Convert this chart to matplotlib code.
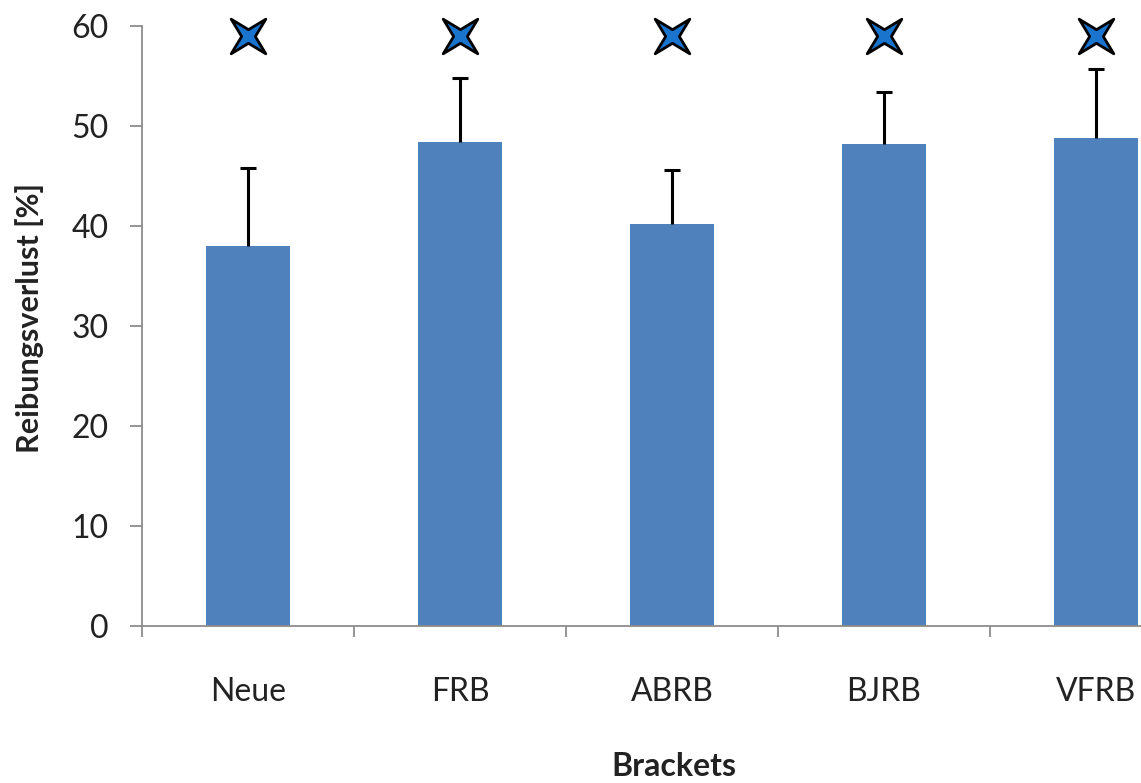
import matplotlib
matplotlib.use("Agg")
import matplotlib.pyplot as plt
import numpy as np
from matplotlib.path import Path

categories = ["Neue", "FRB", "ABRB", "BJRB", "VFRB"]
means = [38.0, 48.4, 40.2, 48.2, 48.8]
upper_err = [7.8, 6.4, 5.4, 5.2, 6.9]
star_level = [59.0, 59.0, 59.0, 59.0, 59.0]

plt.rcParams["font.family"] = ["Lato", "DejaVu Sans"]

fig = plt.figure(figsize=(11.41, 7.83), dpi=100)
ax = fig.add_axes([142 / 1141, 157 / 783, 1060 / 1141, 600 / 783])

x = np.arange(len(categories)) + 0.5
ax.bar(x, means, width=0.4, color="#4F81BD", zorder=2)
_, caps, _ = ax.errorbar(x, means, yerr=[np.zeros(len(means)), upper_err], fmt="none",
                         ecolor="black", elinewidth=2.2, capsize=6, capthick=2.2, zorder=3)
# one-sided error bars: hide the cap at the bar top
caps[0].set_visible(False)

# four-pointed star marker
angles = np.deg2rad(np.arange(0, 360, 45) + 45)
radii = np.array([1.0, 0.28] * 4)
verts = np.column_stack([radii * np.cos(angles), radii * np.sin(angles)])
verts = np.vstack([verts, verts[:1]])
codes = [Path.MOVETO] + [Path.LINETO] * 7 + [Path.CLOSEPOLY]
star = Path(verts, codes)
ax.scatter(x, star_level, marker=star, s=620, facecolor="#1874CD",
           edgecolor="black", linewidth=2, zorder=4, clip_on=False)

ax.set_xlim(0, 5)
ax.set_ylim(0, 60)
ax.set_yticks(range(0, 61, 10))
ax.set_xticks(range(0, 6))
ax.set_xticklabels([])
ax.set_xticks(x, minor=True)
ax.set_xticklabels(categories, minor=True)
ax.tick_params(axis="x", which="minor", length=0, pad=37, labelsize=23, colors="#222222")
ax.tick_params(axis="x", which="major", length=8, width=1.3, color="#8c8c8c")
ax.tick_params(axis="y", length=9, width=1.3, color="#8c8c8c", pad=15,
               labelsize=23, labelcolor="#222222")

for side in ["top", "right"]:
    ax.spines[side].set_visible(False)
for side in ["left", "bottom"]:
    ax.spines[side].set_color("#8c8c8c")
    ax.spines[side].set_linewidth(1.3)

fig.text(30 / 1141, 1 - 318 / 783, "Reibungsverlust [%]", rotation=90,
         ha="center", va="center", fontsize=22, fontweight="bold", color="#222222")
fig.text(674 / 1141, 2 / 783, "Brackets", ha="center", va="bottom",
         fontsize=23, fontweight="bold", color="#222222")

fig.savefig("out.png", dpi=100)
